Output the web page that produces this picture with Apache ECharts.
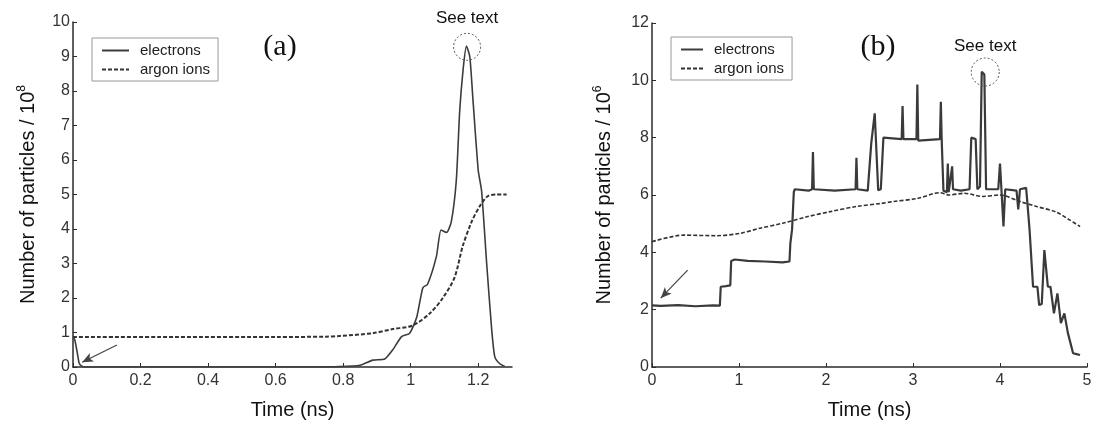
<!DOCTYPE html>
<html>
<head>
<meta charset="utf-8">
<title>Number of particles vs time</title>
<script src="https://cdn.jsdelivr.net/npm/echarts@6/dist/echarts.min.js"></script>
<style>
  html, body { margin: 0; padding: 0; background: #ffffff; }
  #chart { width: 1096px; height: 429px; }
</style>
</head>
<body>
<div id="chart"></div>
<script>
// ---- (a) data, units of 10^8 particles ----
const elecATime = [0, 0.005, 0.012, 0.018, 0.025, 0.035, 0.2, 0.5, 0.7, 0.79, 0.85, 0.888, 0.923, 0.947, 0.973, 0.997, 1.018, 1.036, 1.05, 1.076, 1.09, 1.106, 1.12, 1.135, 1.145, 1.155, 1.165, 1.175, 1.184, 1.2, 1.21, 1.225, 1.24, 1.249, 1.263, 1.278];
const elecAValue = [0.85, 0.8, 0.45, 0.12, 0.03, 0, 0, 0, 0, 0.01, 0.05, 0.2, 0.23, 0.5, 0.88, 0.98, 1.45, 2.3, 2.4, 3.2, 3.97, 3.9, 4.2, 5.4, 7.4, 8.6, 9.3, 9.0, 7.8, 5.7, 5.1, 3.0, 1.07, 0.3, 0.1, 0.02];
const ionATime = [0, 0.3, 0.6, 0.75, 0.79, 0.888, 0.947, 1.005, 1.056, 1.095, 1.13, 1.154, 1.18, 1.204, 1.228, 1.254, 1.284];
const ionAValue = [0.87, 0.87, 0.87, 0.88, 0.9, 0.98, 1.1, 1.2, 1.55, 2.0, 2.6, 3.5, 4.2, 4.65, 4.95, 5.0, 5.0];
const xTicksA = [0, 0.2, 0.4, 0.6, 0.8, 1, 1.2];

// ---- (b) data, units of 10^6 particles ----
const elecBTime = [0, 0.1, 0.3, 0.5, 0.7, 0.78, 0.79, 0.85, 0.9, 0.91, 0.95, 1.1, 1.3, 1.5, 1.58, 1.59, 1.61, 1.63, 1.64, 1.8, 1.84, 1.85, 1.86, 2.1, 2.34, 2.35, 2.36, 2.48, 2.52, 2.56, 2.58, 2.6, 2.63, 2.66, 2.87, 2.88, 2.89, 3.04, 3.05, 3.06, 3.31, 3.32, 3.33, 3.35, 3.39, 3.4, 3.41, 3.45, 3.46, 3.55, 3.65, 3.67, 3.72, 3.74, 3.77, 3.79, 3.82, 3.84, 3.98, 4.0, 4.02, 4.04, 4.06, 4.19, 4.21, 4.23, 4.3, 4.31, 4.34, 4.38, 4.43, 4.45, 4.48, 4.51, 4.55, 4.58, 4.62, 4.66, 4.7, 4.74, 4.78, 4.84, 4.88, 4.92];
const elecBValue = [2.15, 2.13, 2.16, 2.12, 2.15, 2.14, 2.8, 2.82, 2.85, 3.7, 3.75, 3.7, 3.68, 3.65, 3.68, 4.3, 4.8, 6.1, 6.2, 6.15, 6.2, 7.5, 6.2, 6.15, 6.2, 7.3, 6.2, 6.15, 7.8, 8.85, 7.5, 6.17, 6.2, 8.0, 7.95, 9.1, 7.95, 7.95, 9.85, 7.9, 7.95, 9.25, 7.9, 6.15, 6.1, 7.1, 6.1, 7.0, 6.2, 6.15, 6.2, 8.0, 7.95, 6.2, 6.3, 10.3, 10.2, 6.2, 6.2, 7.1, 6.0, 4.9, 6.2, 6.15, 5.5, 6.2, 6.25, 5.9, 4.78, 2.8, 2.8, 2.16, 2.2, 4.08, 2.8, 2.8, 1.87, 2.57, 1.53, 1.87, 1.19, 0.48, 0.45, 0.42];
const ionBTime = [0, 0.36, 0.74, 1.01, 1.24, 1.51, 1.78, 2.05, 2.35, 2.62, 2.77, 3.05, 3.31, 3.41, 3.59, 3.8, 4.0, 4.23, 4.42, 4.65, 4.8, 4.92];
const ionBValue = [4.37, 4.6, 4.58, 4.66, 4.84, 5.02, 5.24, 5.42, 5.6, 5.7, 5.77, 5.88, 6.08, 6.0, 6.06, 5.95, 6.0, 5.77, 5.6, 5.4, 5.13, 4.9];
const xTicksB = [0, 1, 2, 3, 4, 5];

function zip(xs, ys) {
  return xs.map((x, i) => [x, ys[i]]);
}

const FONT = "Liberation Sans, Arial, sans-serif";
const INK = "#2b2b2b";

function xAxisOf(grid, max, ticks) {
  return {
    type: "value",
    gridIndex: grid,
    min: 0,
    max: max,
    name: "Time (ns)",
    nameLocation: "middle",
    nameGap: 33,
    nameTextStyle: { fontFamily: FONT, fontSize: 20, color: "#111" },
    axisLine: { lineStyle: { color: INK, width: 1.5 } },
    axisTick: { inside: true, length: 4, customValues: ticks, lineStyle: { color: INK } },
    axisLabel: { customValues: ticks, fontFamily: FONT, fontSize: 16, color: "#333", margin: 6 },
    splitLine: { show: false }
  };
}

function yAxisOf(grid, max, step, exp, gap) {
  return {
    type: "value",
    gridIndex: grid,
    min: 0,
    max: max,
    interval: step,
    name: "Number of particles / 10{sup|" + exp + "}",
    nameLocation: "middle",
    nameGap: gap,
    nameTextStyle: {
      fontFamily: FONT, fontSize: 20, color: "#111",
      rich: { sup: { fontFamily: FONT, fontSize: 12, color: "#111", padding: [0, 0, 12, 0] } }
    },
    axisLine: { show: true, lineStyle: { color: INK, width: 1.5 } },
    axisTick: { show: true, inside: true, length: 4, lineStyle: { color: INK } },
    axisLabel: { fontFamily: FONT, fontSize: 16, color: "#333", margin: 3 },
    splitLine: { show: false }
  };
}

function legendAt(left, top, lineLen) {
  return {
    orient: "vertical",
    left: left,
    top: top,
    padding: [5, 8, 4, 9],
    itemWidth: lineLen,
    itemHeight: 14,
    itemGap: 4,
    borderColor: "#999",
    borderWidth: 1,
    borderRadius: 0,
    backgroundColor: "#fff",
    selectedMode: false,
    // line only, no marker in the middle
    itemStyle: { opacity: 0 },
    textStyle: { fontFamily: FONT, fontSize: 15, color: "#222", padding: [0, 0, 0, 6] },
    data: ["electrons", "argon ions"]
  };
}

const seeText = (x, y, size, dist) => ({
  symbol: "circle",
  symbolSize: size,
  data: [{ coord: [x, y] }],
  itemStyle: { color: "rgba(0,0,0,0)", borderColor: "#555", borderWidth: 1, borderType: [2, 2] },
  label: { show: true, formatter: "See text", position: "top", distance: dist, fontFamily: FONT, fontSize: 17, color: "#111" }
});

const arrow = (x0, y0, x1, y1) => ({
  silent: true,
  symbol: ["none", "arrow"],
  symbolSize: [7, 11],
  label: { show: false },
  lineStyle: { color: "#444", width: 1.2, type: "solid" },
  itemStyle: { color: "#444" },
  data: [[{ coord: [x0, y0] }, { coord: [x1, y1] }]]
});

const chart = echarts.init(document.getElementById("chart"), null, { renderer: "canvas" });
chart.setOption({
  animation: false,
  backgroundColor: "#ffffff",
  grid: [
    { left: 73, top: 22, width: 439, height: 345 },
    { left: 652, top: 23, width: 435, height: 344 }
  ],
  xAxis: [xAxisOf(0, 1.3, xTicksA), xAxisOf(1, 5, xTicksB)],
  yAxis: [yAxisOf(0, 10, 1, 8, 33), yAxisOf(1, 12, 2, 6, 36)],
  legend: [legendAt(92, 38, 27), legendAt(671, 37, 22)],
  graphic: [
    { type: "text", x: 280, y: 47, style: { text: "(a)", font: "30px Liberation Serif, Times New Roman, serif", fill: "#111", align: "center", verticalAlign: "middle" } },
    { type: "text", x: 878, y: 47, style: { text: "(b)", font: "30px Liberation Serif, Times New Roman, serif", fill: "#111", align: "center", verticalAlign: "middle" } }
  ],
  series: [
    {
      name: "electrons", type: "line", xAxisIndex: 0, yAxisIndex: 0,
      data: zip(elecATime, elecAValue), symbol: "none", smooth: 0.2,
      lineStyle: { color: "#3c3c3c", width: 1.6 }, itemStyle: { color: "#3c3c3c" },
      markPoint: seeText(1.167, 9.28, 27, 6),
      markLine: arrow(0.13, 0.64, 0.027, 0.14)
    },
    {
      name: "argon ions", type: "line", xAxisIndex: 0, yAxisIndex: 0,
      data: zip(ionATime, ionAValue), symbol: "none", smooth: 0.3,
      lineStyle: { color: "#333", width: 2, type: [4, 2] }, itemStyle: { color: "#333" }
    },
    {
      name: "electrons", type: "line", xAxisIndex: 1, yAxisIndex: 1,
      data: zip(elecBTime, elecBValue), symbol: "none",
      lineStyle: { color: "#3a3a3a", width: 2.2 }, itemStyle: { color: "#3a3a3a" },
      markPoint: seeText(3.83, 10.29, 28, 3),
      markLine: arrow(0.41, 3.38, 0.1, 2.4)
    },
    {
      name: "argon ions", type: "line", xAxisIndex: 1, yAxisIndex: 1,
      data: zip(ionBTime, ionBValue), symbol: "none", smooth: 0.3,
      lineStyle: { color: "#333", width: 1.6, type: [4, 2] }, itemStyle: { color: "#333" }
    }
  ]
});
</script>
</body>
</html>
